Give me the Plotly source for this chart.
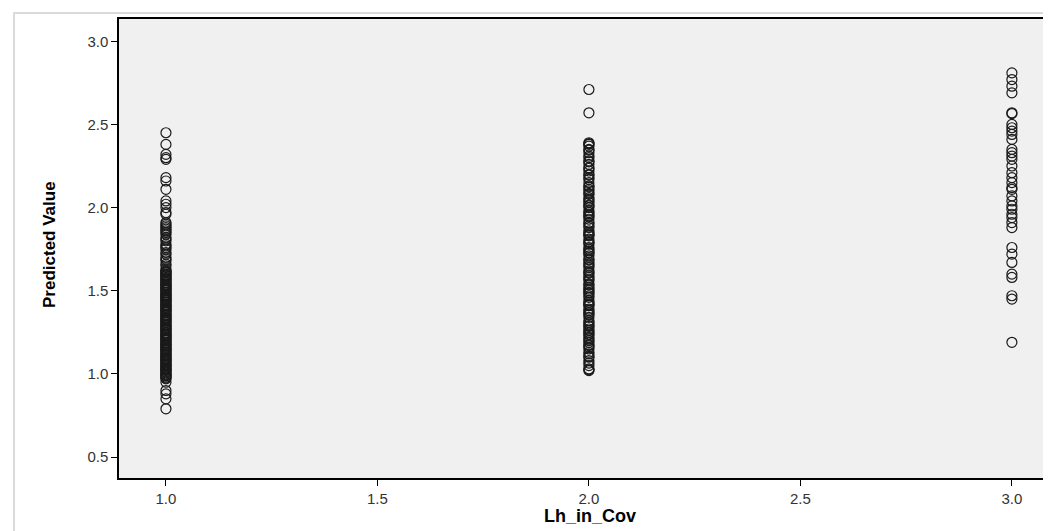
import plotly.graph_objects as go

# Data
group_1 = [2.45, 2.38, 2.32, 2.30, 2.29, 2.18, 2.16, 2.11, 2.04, 2.02, 2.00, 1.97, 1.96,
           1.91, 1.90, 1.89, 1.88, 1.87, 1.86, 1.85, 1.84, 1.82, 1.81, 1.80, 1.78, 1.77,
           1.76, 1.75, 1.73, 1.72, 1.70, 1.69, 1.68, 1.66, 1.65, 1.63,
           1.62, 1.615, 1.61, 1.60, 1.595, 1.59, 1.58, 1.57, 1.565, 1.56, 1.55, 1.54,
           1.535, 1.53, 1.52, 1.51, 1.505, 1.50, 1.49, 1.48, 1.475, 1.47, 1.46, 1.45,
           1.445, 1.44, 1.43, 1.42, 1.415, 1.41, 1.40, 1.39, 1.385, 1.38, 1.37, 1.36,
           1.355, 1.35, 1.34, 1.33, 1.325, 1.32, 1.31, 1.30, 1.295, 1.29, 1.28, 1.27,
           1.265, 1.26, 1.25, 1.24, 1.235, 1.23, 1.22, 1.21, 1.205, 1.20, 1.19, 1.18,
           1.175, 1.17, 1.16, 1.15, 1.145, 1.14, 1.13, 1.12, 1.115, 1.11, 1.10, 1.09,
           1.085, 1.08, 1.07, 1.06, 1.055, 1.05, 1.04, 1.03, 1.025, 1.02, 1.01, 1.00,
           0.995, 0.99, 0.98, 0.975, 0.97,
           1.612, 1.588, 1.573, 1.548, 1.527, 1.513, 1.488, 1.467, 1.452, 1.433,
           1.408, 1.392, 1.373, 1.348, 1.333, 1.312, 1.288, 1.272, 1.247, 1.228,
           1.213, 1.188, 1.167, 1.152, 1.133, 1.108, 1.092, 1.073, 1.048, 1.033,
           1.012, 0.988,
           0.95, 0.90, 0.88, 0.85, 0.79]

group_2 = [2.71, 2.57, 2.39, 2.38, 2.37, 2.35, 2.33, 2.31, 2.30, 2.28, 2.26, 2.24,
           2.22, 2.20, 2.18, 2.17, 2.15, 2.13, 2.11, 2.10, 2.08, 2.06, 2.05, 2.04,
           2.03, 2.01, 2.00, 1.98, 1.97, 1.96, 1.95, 1.93, 1.91, 1.89, 1.88, 1.86,
           1.85, 1.84, 1.83, 1.81, 1.79, 1.78, 1.76, 1.75, 1.74, 1.73, 1.71, 1.69,
           1.67, 1.66, 1.65, 1.64, 1.62, 1.61, 1.59, 1.58, 1.57, 1.56, 1.54, 1.52,
           1.51, 1.50, 1.49, 1.47, 1.46, 1.44, 1.43, 1.42, 1.41, 1.39, 1.38, 1.37,
           1.36, 1.34, 1.32, 1.31, 1.30, 1.29, 1.27, 1.26, 1.25, 1.24, 1.22, 1.21,
           1.20, 1.19, 1.17, 1.16, 1.15, 1.13, 1.12, 1.10, 1.08, 1.05, 1.03, 1.02,
           2.385, 2.345, 2.275, 2.235, 2.195, 2.125, 2.085, 2.015, 1.945, 1.905,
           1.835, 1.795, 1.725, 1.685, 1.605, 1.535, 1.485, 1.415, 1.355, 1.285,
           1.235, 1.175, 1.105, 1.065, 1.025]

group_3 = [2.81, 2.77, 2.73, 2.69, 2.57, 2.565, 2.50, 2.48, 2.46, 2.44, 2.41,
           2.35, 2.33, 2.31, 2.29, 2.25, 2.21, 2.18, 2.15, 2.12, 2.11,
           2.07, 2.04, 2.01, 1.99, 1.96, 1.94, 1.91, 1.88,
           1.76, 1.72, 1.67, 1.60, 1.58, 1.47, 1.45, 1.19]

x_values = [1.0, 2.0, 3.0]
groups = [group_1, group_2, group_3]

x_ticks = [1.0, 1.5, 2.0, 2.5, 3.0]
y_ticks = [0.5, 1.0, 1.5, 2.0, 2.5, 3.0]

xs, ys = [], []
for xv, g in zip(x_values, groups):
    xs += [xv] * len(g)
    ys += g

fig = go.Figure()
fig.add_trace(go.Scatter(
    x=xs, y=ys, mode="markers",
    marker=dict(symbol="circle-open", size=10, color="#1a1a1a", line=dict(width=1.2)),
    showlegend=False, hoverinfo="x+y",
))

W, H = 1051, 531
L, R, T, B = 111, 1, 11, 61
pw, ph = W - L - R, H - T - B

axis_common = dict(
    showline=True, linecolor="black", linewidth=1.5, mirror=True,
    ticks="outside", ticklen=6, tickwidth=1.2, tickcolor="black",
    showgrid=False, zeroline=False, tickformat=".1f",
    tickfont=dict(family="Liberation Sans, Arial, sans-serif", size=15, color="#333333"),
)

fig.update_layout(
    width=W, height=H,
    margin=dict(l=L, r=R, t=T, b=B, autoexpand=False),
    paper_bgcolor="white", plot_bgcolor="#F0F0F0",
    xaxis=dict(range=[0.889, 3.109], tickvals=x_ticks, **axis_common),
    yaxis=dict(range=[0.374, 3.134], tickvals=y_ticks, **axis_common),
    annotations=[
        dict(text="<b>Predicted Value</b>", xref="paper", yref="paper",
             x=(42 - L) / pw, y=(H - B - 237) / ph, textangle=-90,
             showarrow=False, xanchor="center", yanchor="middle",
             font=dict(family="Liberation Sans Narrow, Arial Narrow, sans-serif", size=17, color="black")),
        dict(text="<b>Lh_in_Cov</b>", xref="paper", yref="paper",
             x=(582 - L) / pw, y=(H - B - 508) / ph,
             showarrow=False, xanchor="center", yanchor="middle",
             font=dict(family="Liberation Sans, Arial, sans-serif", size=18, color="black")),
    ],
    shapes=[
        dict(type="rect", xref="paper", yref="paper", layer="below",
             x0=(6 - L) / pw, x1=(W + 4 - L) / pw,
             y0=(H - B - (H + 4)) / ph, y1=(H - B - 5) / ph,
             line=dict(color="#DADADA", width=2), fillcolor="rgba(0,0,0,0)"),
    ],
)

fig.write_html("out.html")
